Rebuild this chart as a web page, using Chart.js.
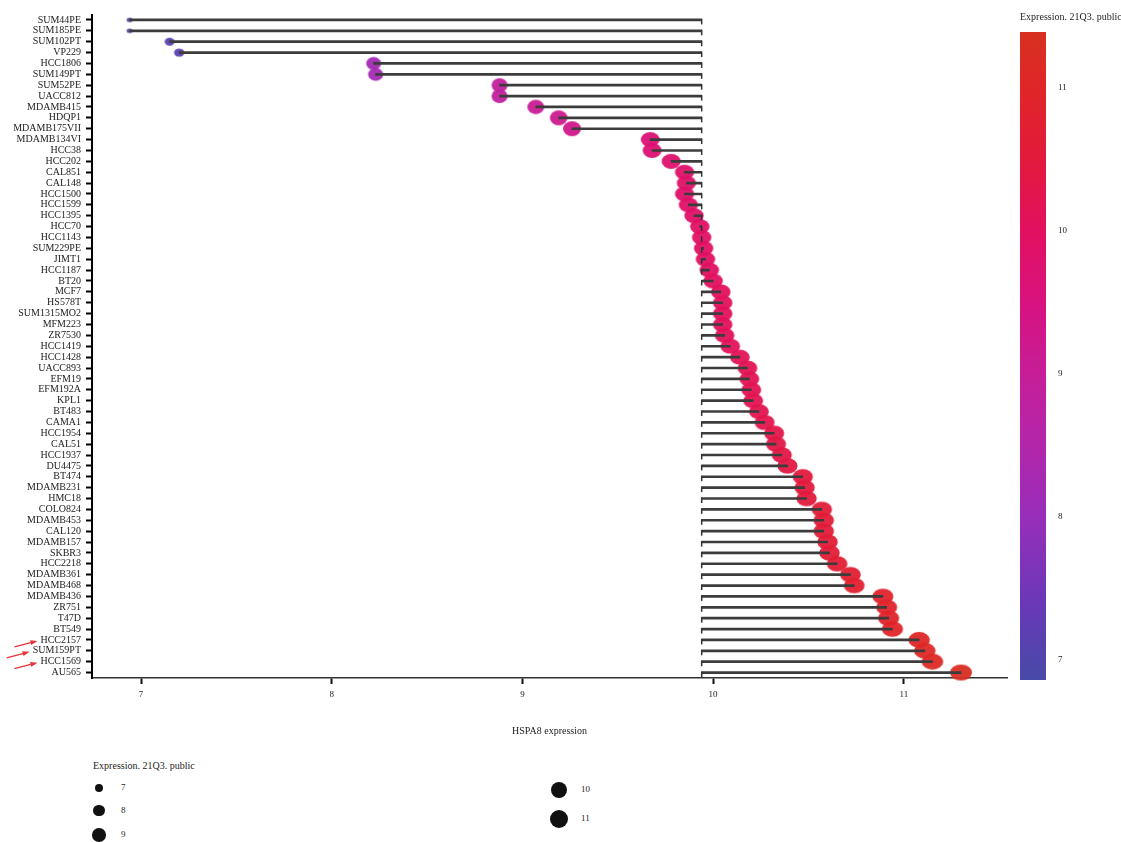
<!DOCTYPE html>
<html>
<head>
<meta charset="utf-8">
<script src="https://cdn.jsdelivr.net/npm/chart.js@4.4.1/dist/chart.umd.min.js"></script>
<style>
  html, body { margin: 0; padding: 0; background: #fff; }
  body { position: relative; width: 1121px; height: 842px; overflow: hidden;
         font-family: "Liberation Serif", "DejaVu Serif", serif; color: #222; }
  #main { position: absolute; left: 0; top: 0; }
  #colorbar { position: absolute; left: 1000px; top: 22px; }
  .txt { position: absolute; font-size: 10px; line-height: 12px; white-space: nowrap; color: #222; opacity: 0.99; }
  .num { position: absolute; font-size: 9px; line-height: 10px; white-space: nowrap; color: #222; opacity: 0.99; }
  .key { position: absolute; border-radius: 50%; background: #111; }
</style>
</head>
<body>
<canvas id="main" width="1121" height="750" style="width:1121px;height:750px"></canvas>
<canvas id="colorbar" width="121" height="668" style="width:121px;height:668px"></canvas>
<div class="txt" style="left:1020px;top:11px">Expression. 21Q3. public</div>
<div id="sizeLegend"></div>
<script>
// Breast cancer cell lines, sorted by HSPA8 expression
const cellLines = [
  'SUM44PE','SUM185PE','SUM102PT','VP229','HCC1806','SUM149PT','SUM52PE','UACC812',
  'MDAMB415','HDQP1','MDAMB175VII','MDAMB134VI','HCC38','HCC202','CAL851','CAL148',
  'HCC1500','HCC1599','HCC1395','HCC70','HCC1143','SUM229PE','JIMT1','HCC1187',
  'BT20','MCF7','HS578T','SUM1315MO2','MFM223','ZR7530','HCC1419','HCC1428',
  'UACC893','EFM19','EFM192A','KPL1','BT483','CAMA1','HCC1954','CAL51',
  'HCC1937','DU4475','BT474','MDAMB231','HMC18','COLO824','MDAMB453','CAL120',
  'MDAMB157','SKBR3','HCC2218','MDAMB361','MDAMB468','MDAMB436','ZR751','T47D',
  'BT549','HCC2157','SUM159PT','HCC1569','AU565'
];

// HSPA8 expression (Expression 21Q3 public)
const hspa8 = [
  6.94, 6.94, 7.15, 7.20, 8.22, 8.23, 8.88, 8.88,
  9.07, 9.19, 9.26, 9.67, 9.68, 9.78, 9.85, 9.86,
  9.85, 9.87, 9.90, 9.93, 9.94, 9.95, 9.96, 9.98,
  10.00, 10.04, 10.05, 10.05, 10.05, 10.06, 10.09, 10.14,
  10.18, 10.19, 10.20, 10.21, 10.24, 10.27, 10.32, 10.33,
  10.36, 10.39, 10.47, 10.48, 10.49, 10.57, 10.58, 10.58,
  10.60, 10.61, 10.65, 10.72, 10.74, 10.89, 10.91, 10.92,
  10.94, 11.08, 11.11, 11.15, 11.30
];

// Reference level the stems are drawn from
const baseline = 9.94;

const xTicks = [7, 8, 9, 10, 11];
const colorTicks = [7, 8, 9, 10, 11];
const legendLevels = [7, 8, 9, 10, 11];
const highlighted = ['HCC2157', 'SUM159PT', 'HCC1569'];

const FONT = '"Liberation Serif", "DejaVu Serif", serif';

// ---- colour scale ------------------------------------------------------
const cbMin = 6.86, cbMax = 11.39;
const colorStops = [
  [6.86,  [ 72,  74, 168]],
  [7.0,   [ 80,  70, 172]],
  [7.4,   [106,  56, 184]],
  [8.0,   [152,  46, 186]],
  [8.5,   [178,  38, 170]],
  [9.0,   [198,  30, 152]],
  [9.5,   [216,  18, 126]],
  [10.0,  [226,  16,  96]],
  [10.5,  [226,  26,  60]],
  [11.0,  [224,  38,  40]],
  [11.39, [214,  48,  32]]
];
function lerp(a, b, t) { return a + (b - a) * t; }
function colorFor(v) {
  if (v <= colorStops[0][0]) return colorStops[0][1];
  for (let i = 1; i < colorStops.length; i++) {
    const [v1, c1] = colorStops[i];
    const [v0, c0] = colorStops[i - 1];
    if (v <= v1) {
      const t = (v - v0) / (v1 - v0);
      return [0, 1, 2].map(k => Math.round(lerp(c0[k], c1[k], t)));
    }
  }
  return colorStops[colorStops.length - 1][1];
}
const rgb = c => `rgb(${c[0]},${c[1]},${c[2]})`;

// ---- marker size scale (ellipse width, height in px) ---------------------
const sizeStops = [
  [6.94, 6, 4.5], [7.15, 10, 8], [8.2, 15, 13], [8.9, 16, 14],
  [9.26, 18, 15], [10.0, 19.5, 15], [10.6, 20.5, 15.5], [11.3, 22, 16]
];
function sizeFor(v) {
  if (v <= sizeStops[0][0]) return [sizeStops[0][1], sizeStops[0][2]];
  for (let i = 1; i < sizeStops.length; i++) {
    const a = sizeStops[i - 1], b = sizeStops[i];
    if (v <= b[0]) {
      const t = (v - a[0]) / (b[0] - a[0]);
      return [lerp(a[1], b[1], t), lerp(a[2], b[2], t)];
    }
  }
  const l = sizeStops[sizeStops.length - 1];
  return [l[1], l[2]];
}
function makeMarker(v) {
  const [w, h] = sizeFor(v);
  const cw = Math.ceil(w) + 2, ch = Math.ceil(h) + 2;
  const c = document.createElement('canvas');
  c.width = cw; c.height = ch;
  const g = c.getContext('2d');
  g.fillStyle = rgb(colorFor(v));
  g.globalAlpha = 0.95;
  g.beginPath();
  g.ellipse(cw / 2, ch / 2, w / 2, h / 2, 0, 0, Math.PI * 2);
  g.fill();
  return c;
}
const markers = hspa8.map(makeMarker);

// ---- x range ---------------------------------------------------------------
const xMin = 6.743, xMax = 11.541;

// stem hooks at the reference level and arrows beside marked cell lines
const decorations = {
  id: 'decorations',
  afterDatasetsDraw(chart) {
    const { ctx, scales: { x, y } } = chart;
    const bx = x.getPixelForValue(baseline);
    ctx.save();
    ctx.strokeStyle = '#333';
    ctx.lineWidth = 1.5;
    cellLines.forEach((_, i) => {
      const py = y.getPixelForValue(i);
      ctx.beginPath();
      ctx.moveTo(bx, py - 1);
      ctx.lineTo(bx, py + 4.5);
      ctx.stroke();
    });
    ctx.restore();
  },
  afterDraw(chart) {
    const { ctx, scales: { y } } = chart;
    ctx.save();
    ctx.font = '10px ' + FONT;
    const labelRight = y.right - 6 - 5;
    ctx.strokeStyle = '#e5333a';
    ctx.fillStyle = '#e5333a';
    ctx.lineWidth = 1.3;
    highlighted.forEach(name => {
      const idx = cellLines.indexOf(name);
      const py = y.getPixelForValue(idx) + 1;
      const tipX = labelRight - ctx.measureText(name).width - 3;
      const tailX = tipX - 23, tailY = py + 6;
      const ang = Math.atan2(py - tailY, tipX - tailX);
      ctx.beginPath();
      ctx.moveTo(tailX, tailY);
      ctx.lineTo(tipX - 4 * Math.cos(ang), py - 4 * Math.sin(ang));
      ctx.stroke();
      ctx.beginPath();
      ctx.moveTo(tipX, py);
      ctx.lineTo(tipX - 7 * Math.cos(ang) + 2.5 * Math.sin(ang), py - 7 * Math.sin(ang) - 2.5 * Math.cos(ang));
      ctx.lineTo(tipX - 7 * Math.cos(ang) - 2.5 * Math.sin(ang), py - 7 * Math.sin(ang) + 2.5 * Math.cos(ang));
      ctx.closePath();
      ctx.fill();
    });
    ctx.restore();
  }
};

new Chart(document.getElementById('main'), {
  type: 'bar',
  data: {
    labels: cellLines,
    datasets: [
      {
        type: 'bar',
        data: hspa8.map(v => [baseline, v]),
        backgroundColor: '#3c3c3c',
        borderWidth: 0,
        barThickness: 2,
        order: 0
      },
      {
        type: 'scatter',
        data: hspa8.map((v, i) => ({ x: v, y: cellLines[i] })),
        pointStyle: ctx => markers[ctx.dataIndex],
        pointRadius: 3,
        showLine: false,
        order: 1
      }
    ]
  },
  options: {
    indexAxis: 'y',
    responsive: false,
    animation: false,
    layout: { padding: { top: 14.5, right: 114, left: 0, bottom: 0 } },
    plugins: { legend: { display: false }, tooltip: { enabled: false } },
    scales: {
      x: {
        type: 'linear',
        min: xMin,
        max: xMax,
        afterBuildTicks: s => { s.ticks = xTicks.map(v => ({ value: v })); },
        afterFit: s => { s.height = 72; },
        grid: { drawOnChartArea: false, tickLength: 6, tickWidth: 2, tickColor: '#111' },
        border: { color: '#333', width: 1.5 },
        ticks: { font: { family: FONT, size: 9 }, color: '#222', padding: 5 },
        title: {
          display: true, text: 'HSPA8 expression',
          font: { family: FONT, size: 10 }, color: '#222',
          padding: { top: 0, bottom: 13 }
        }
      },
      y: {
        type: 'category',
        offset: true,
        afterFit: s => { s.width = 92; },
        grid: { drawOnChartArea: false, offset: false, tickLength: 6, tickWidth: 2, tickColor: '#000' },
        border: { color: '#000', width: 2 },
        ticks: { font: { family: FONT, size: 10 }, color: '#222', padding: 5, autoSkip: false }
      }
    }
  },
  plugins: [decorations]
});

// ---- colour bar ----------------------------------------------------------
new Chart(document.getElementById('colorbar'), {
  type: 'bar',
  data: {
    labels: [''],
    datasets: [{
      data: [[cbMin, cbMax]],
      borderWidth: 0,
      barPercentage: 1,
      categoryPercentage: 1,
      backgroundColor: ctx => {
        const c = ctx.chart;
        if (!c.chartArea) return 'rgba(0,0,0,0)';
        const ys = c.scales.y;
        const g = c.ctx.createLinearGradient(0, ys.getPixelForValue(cbMin), 0, ys.getPixelForValue(cbMax));
        colorStops.forEach(([v, col]) => g.addColorStop((v - cbMin) / (cbMax - cbMin), rgb(col)));
        return g;
      }
    }]
  },
  options: {
    responsive: false,
    animation: false,
    layout: { padding: { top: 10, bottom: 10, left: 20, right: 0 } },
    plugins: { legend: { display: false }, tooltip: { enabled: false } },
    scales: {
      x: { display: false },
      y: {
        position: 'right',
        min: cbMin,
        max: cbMax,
        afterBuildTicks: s => { s.ticks = colorTicks.map(v => ({ value: v })); },
        afterFit: s => { s.width = 75; s.paddingTop = 0; s.paddingBottom = 0; },
        grid: { display: false, drawTicks: false },
        border: { display: false },
        ticks: { padding: 12, font: { family: FONT, size: 9 }, color: '#222' }
      }
    }
  }
});

// ---- size legend -----------------------------------------------------------
(function buildSizeLegend() {
  const host = document.getElementById('sizeLegend');
  const title = document.createElement('div');
  title.className = 'txt';
  title.style.left = '93px';
  title.style.top = '760px';
  title.textContent = 'Expression. 21Q3. public';
  host.appendChild(title);
  const slots = [[99, 788], [99, 810.5], [99, 835], [559, 790], [559, 819]];
  legendLevels.forEach((lv, i) => {
    const [cx, cy] = slots[i];
    const d = 8.5 + (lv - 7) * 2.6;
    const dot = document.createElement('div');
    dot.className = 'key';
    dot.style.width = d + 'px';
    dot.style.height = d + 'px';
    dot.style.left = (cx - d / 2) + 'px';
    dot.style.top = (cy - d / 2) + 'px';
    host.appendChild(dot);
    const lab = document.createElement('div');
    lab.className = 'num';
    lab.style.left = (cx + 22) + 'px';
    lab.style.top = (cy - 6) + 'px';
    lab.textContent = String(lv);
    host.appendChild(lab);
  });
})();
</script>
</body>
</html>
